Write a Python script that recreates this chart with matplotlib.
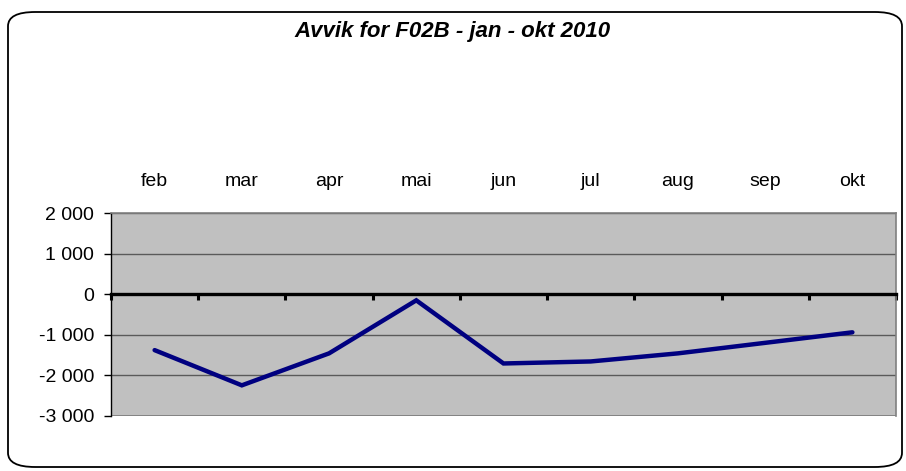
import matplotlib
matplotlib.use("Agg")
import matplotlib.pyplot as plt
from matplotlib.patches import FancyBboxPatch
import numpy as np

categories = ["feb", "mar", "apr", "mai", "jun", "jul", "aug", "sep", "okt"]
values = [-1380, -2250, -1460, -150, -1710, -1660, -1460, -1200, -940]
y_ticks = [-3000, -2000, -1000, 0, 1000, 2000]
y_tick_labels = ["-3 000", "-2 000", "-1 000", "0", "1 000", "2 000"]
title = "Avvik for F02B - jan - okt 2010"

plt.rcParams['font.family'] = ['Liberation Sans', 'DejaVu Sans']

fig = plt.figure(figsize=(9.06, 4.71), dpi=100)
fig.patch.set_facecolor("white")

# rounded chart border
border = FancyBboxPatch((8/906, 1 - 467/471), (902-8)/906, (467-12)/471,
                        boxstyle="round,pad=0,rounding_size=0.03",
                        transform=fig.transFigure, facecolor="none",
                        edgecolor="black", linewidth=1.3, zorder=0)
fig.patches.append(border)

ax = fig.add_axes([111/906, 1 - 415.7/471, (896-111)/906, (415.7-213.3)/471])
ax.set_facecolor("#C0C0C0")

x = np.arange(len(categories))
ax.set_xlim(-0.5, len(categories) - 0.5)
ax.set_ylim(y_ticks[0], y_ticks[-1])

# gridlines
ax.set_yticks(y_ticks)
ax.set_yticklabels(y_tick_labels, fontsize=14)
ax.yaxis.grid(True, color="#5a5a5a", linewidth=1.0)
ax.set_axisbelow(True)
ax.tick_params(axis="y", direction="out", length=5, width=1, pad=7, colors="black")

# zero axis with tick marks at category boundaries
ax.spines['bottom'].set_position(('data', 0))
ax.spines['bottom'].set_linewidth(2.4)
ax.spines['bottom'].set_color("black")
ax.spines['bottom'].set_zorder(3)
ax.set_xticks(np.arange(-0.5, len(categories), 1.0))
ax.set_xticklabels([])
ax.tick_params(axis="x", direction="out", length=4, width=2.2, colors="black")

for s in ['top', 'right']:
    ax.spines[s].set_color("#808080")
    ax.spines[s].set_linewidth(1.2)
ax.spines['left'].set_color("black")
ax.spines['left'].set_linewidth(1.0)

# bottom border of plot area
ax.axhline(y_ticks[0], color="#808080", linewidth=2, zorder=2)

ax.plot(x, values, color="#000080", linewidth=3.2, solid_capstyle="round",
        solid_joinstyle="miter", zorder=4)

# category labels at the top
sec = ax.secondary_xaxis('top')
sec.set_xticks(x)
sec.set_xticklabels(categories, fontsize=14)
sec.tick_params(axis="x", length=0, pad=17)
sec.spines['top'].set_visible(False)

fig.text(0.5, 1 - 32/471, title, ha="center", va="center",
         fontsize=16, fontweight="bold", fontstyle="italic")

fig.savefig("out.png", dpi=100)
